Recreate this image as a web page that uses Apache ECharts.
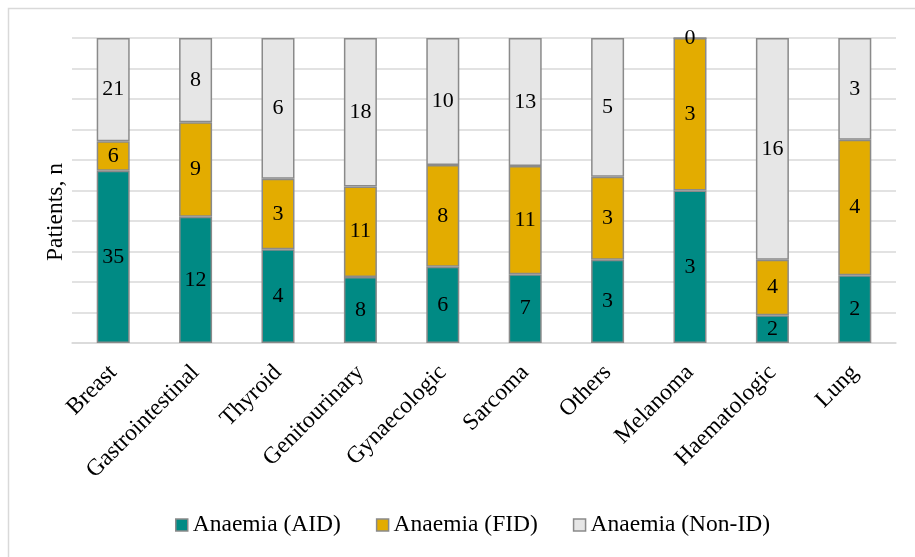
<!DOCTYPE html>
<html>
<head>
<meta charset="utf-8">
<script src="https://cdn.jsdelivr.net/npm/echarts@6/dist/echarts.min.js"></script>
<style>
  html, body { margin: 0; padding: 0; background: #fff; }
  #chart { width: 915px; height: 557px; }
</style>
</head>
<body>
<div id="chart"></div>
<script>
// Tumour types and patient counts per anaemia group
const categories = ['Breast', 'Gastrointestinal', 'Thyroid', 'Genitourinary', 'Gynaecologic',
  'Sarcoma', 'Others', 'Melanoma', 'Haematologic', 'Lung'];
const aid = [35, 12, 4, 8, 6, 7, 3, 3, 2, 2];
const fid = [6, 9, 3, 11, 8, 11, 3, 3, 4, 4];
const nonId = [21, 8, 6, 18, 10, 13, 5, 0, 16, 3];
const seriesNames = ['Anaemia (AID)', 'Anaemia (FID)', 'Anaemia (Non-ID)'];

const FONT = '"Liberation Serif", "Times New Roman", serif';
const totals = categories.map((_, i) => aid[i] + fid[i] + nonId[i]);

// Each bar is shown as its share of the category total (100% stacked), labelled with the count
function shares(counts) {
  return counts.map((v, i) => ({ value: v / totals[i] * 100, count: v }));
}

const colors = ['#008a84', '#e3ac00', '#e6e6e6'];
const groups = [aid, fid, nonId];

const series = groups.map((g, k) => ({
  name: seriesNames[k],
  type: 'bar',
  stack: 'all',
  barWidth: 33,
  data: shares(g),
  itemStyle: { color: colors[k], borderColor: '#8a8a8a', borderWidth: 1.5 },
  label: {
    show: true,
    position: 'inside',
    formatter: p => String(p.data.count),
    color: '#000',
    fontFamily: FONT,
    fontSize: 22
  }
}));

const chart = echarts.init(document.getElementById('chart'), null, { renderer: 'canvas' });
chart.setOption({
  animation: false,
  backgroundColor: '#fff',
  color: colors,
  graphic: [
    {
      type: 'rect',
      shape: { x: 8.5, y: 8.5, width: 1000, height: 1000 },
      style: { fill: 'none', stroke: '#d9d9d9', lineWidth: 1.5 },
      silent: true
    },
    {
      type: 'text',
      x: 56,
      y: 212,
      rotation: Math.PI / 2,
      style: {
        text: 'Patients, n',
        fontFamily: FONT,
        fontSize: 23.5,
        fill: '#000',
        align: 'center',
        verticalAlign: 'middle'
      }
    }
  ],
  grid: { left: 72, right: 19, top: 38, bottom: 214, containLabel: false },
  legend: {
    top: 508,
    left: 170,
    itemWidth: 12,
    itemHeight: 12,
    itemGap: 35,
    icon: 'rect',
    textStyle: { fontFamily: FONT, fontSize: 23.5, color: '#000' },
    data: seriesNames.map((n, k) => ({
      name: n,
      itemStyle: { color: colors[k], borderColor: '#8a8a8a', borderWidth: 1.5 }
    }))
  },
  xAxis: {
    type: 'category',
    data: categories,
    axisLine: { lineStyle: { color: '#d9d9d9', width: 1.5 } },
    axisTick: { show: false },
    axisLabel: {
      rotate: 45,
      interval: 0,
      margin: 26,
      fontFamily: FONT,
      fontSize: 23.5,
      color: '#000'
    }
  },
  yAxis: {
    type: 'value',
    min: 0,
    max: 100,
    interval: 10,
    axisLabel: { show: false },
    axisLine: { show: false },
    axisTick: { show: false },
    splitLine: { lineStyle: { color: '#d9d9d9', width: 1.5 } }
  },
  series: series
});
</script>
</body>
</html>
